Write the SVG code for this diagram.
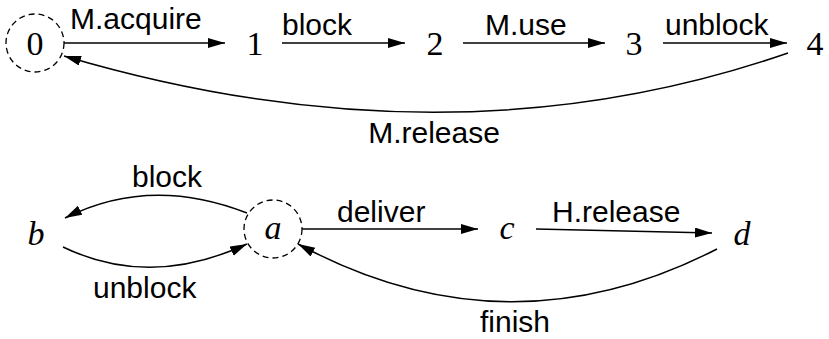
<svg xmlns="http://www.w3.org/2000/svg" width="829" height="339" viewBox="0 0 829 339">
  <style>
    .edge { fill: none; stroke: #000; stroke-width: 1.5; }
    .ring { fill: none; stroke: #000; stroke-width: 1.3; stroke-dasharray: 6 4; }
    .lbl { font-family: "Liberation Sans", Arial, sans-serif; font-size: 30px; fill: #000; }
    .num { font-family: "Liberation Serif", "Times New Roman", serif; font-size: 34px; fill: #000; text-anchor: middle; }
    .var { font-family: "Liberation Serif", "Times New Roman", serif; font-size: 34px; font-style: italic; fill: #000; text-anchor: middle; }
  </style>
  <defs>
    <marker id="arrow" markerUnits="userSpaceOnUse" markerWidth="18" markerHeight="12" refX="17" refY="5" orient="auto">
      <path d="M0,0 L17,5 L0,10 z" fill="#000"/>
    </marker>
  </defs>
  <rect width="829" height="339" fill="#fff"/>

  <!-- upper automaton states -->
  <g id="s0"><circle class="ring" cx="35" cy="43" r="29"/><text class="num" x="35" y="55">0</text></g>
  <g id="s1"><text class="num" x="255" y="55">1</text></g>
  <g id="s2"><text class="num" x="435" y="55">2</text></g>
  <g id="s3"><text class="num" x="634" y="55">3</text></g>
  <g id="s4"><text class="num" x="815" y="55">4</text></g>

  <!-- lower automaton states -->
  <g id="sb"><text class="var" x="36" y="245">b</text></g>
  <g id="sa"><circle class="ring" cx="273" cy="229" r="29"/><text class="var" x="273" y="239">a</text></g>
  <g id="sc"><text class="var" x="507" y="239">c</text></g>
  <g id="sd"><text class="var" x="742" y="245">d</text></g>

  <!-- transitions -->
  <g id="edges">
    <line class="edge" x1="64" y1="43" x2="225" y2="43" marker-end="url(#arrow)"/>
    <line class="edge" x1="282" y1="43" x2="405" y2="43" marker-end="url(#arrow)"/>
    <line class="edge" x1="463" y1="43" x2="605" y2="43" marker-end="url(#arrow)"/>
    <line class="edge" x1="663" y1="43" x2="787" y2="43" marker-end="url(#arrow)"/>
    <path class="edge" d="M788,53 Q450,170 64,56" marker-end="url(#arrow)"/>

    <path class="edge" d="M247,213 Q150,175 65,218" marker-end="url(#arrow)"/>
    <path class="edge" d="M63,247 Q150,289 247,244" marker-end="url(#arrow)"/>
    <line class="edge" x1="302" y1="229" x2="478" y2="229" marker-end="url(#arrow)"/>
    <line class="edge" x1="536" y1="229" x2="712" y2="233" marker-end="url(#arrow)"/>
    <path class="edge" d="M717,249 Q507,357 298,244" marker-end="url(#arrow)"/>

    <text class="lbl" x="70" y="29">M.acquire</text>
    <text class="lbl" x="282" y="35">block</text>
    <text class="lbl" x="485" y="35">M.use</text>
    <text class="lbl" x="665" y="35">unblock</text>
    <text class="lbl" x="434" y="143" text-anchor="middle">M.release</text>

    <text class="lbl" x="132" y="187">block</text>
    <text class="lbl" x="93" y="298">unblock</text>
    <text class="lbl" x="337" y="222">deliver</text>
    <text class="lbl" x="552" y="222">H.release</text>
    <text class="lbl" x="480" y="332">finish</text>
  </g>
</svg>
